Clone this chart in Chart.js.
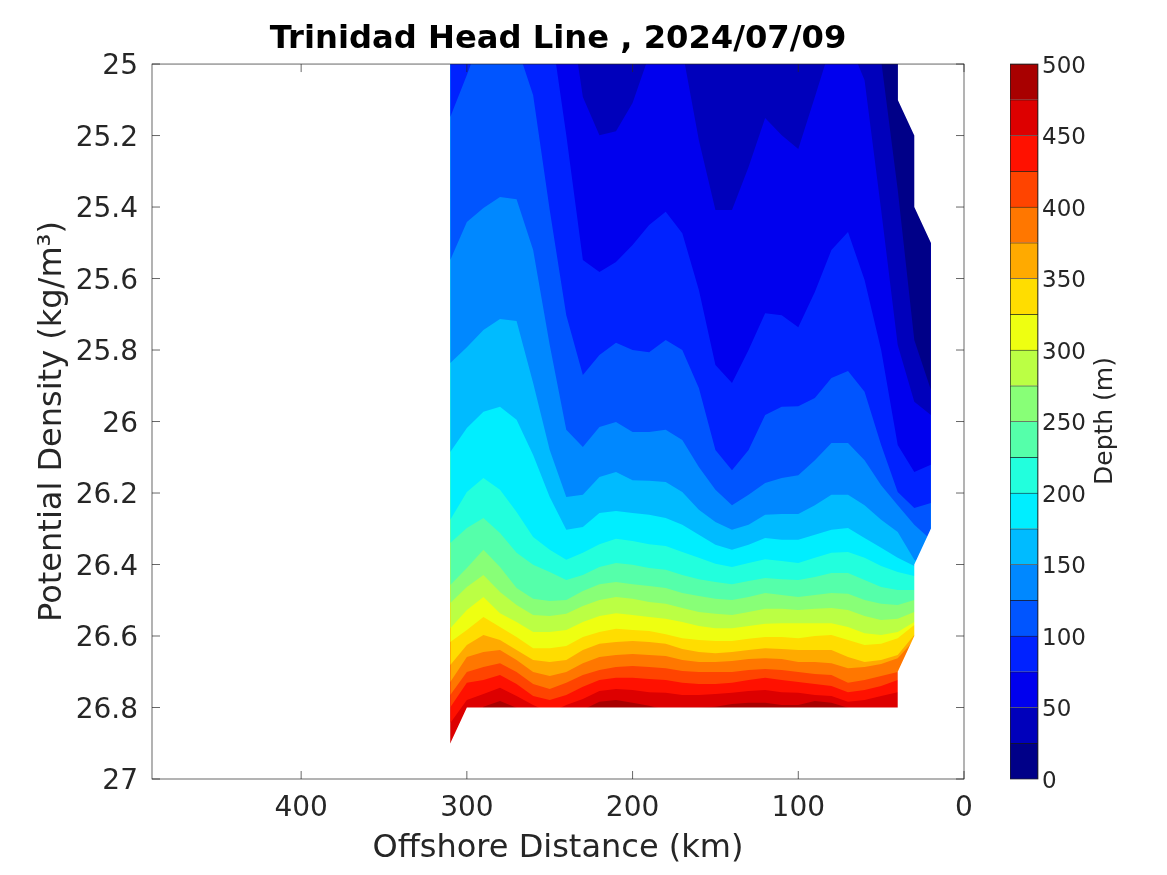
<!DOCTYPE html>
<html><head><meta charset="utf-8">
<script src="https://cdn.jsdelivr.net/npm/chart.js@4"></script>
<style>html,body{margin:0;padding:0;background:#fff}canvas{position:absolute;left:0;top:0}#cb{left:1010px}</style>
</head><body>
<canvas id="main" width="1167" height="875"></canvas>
<canvas id="cb" width="157" height="875"></canvas>
<script>
const titleText = "Trinidad Head Line , 2024/07/09";
const distances = [310,300,290,280,270,260,250,240,230,220,210,200,190,180,170,160,150,140,130,120,110,100,90,80,70,60,50,40,30,20];
const xTickValues = [400,300,200,100,0];
const edgeBottomX = [320,310,300,290,280,270,260,250,240,230,220,210,200,190,180,170,160,150,140,130,120,110,100,90,80,70,60,50,40,40,30,30,20,0];
const edgeBottomY = [26.9,26.9,26.8,26.8,26.8,26.8,26.8,26.8,26.8,26.8,26.8,26.8,26.8,26.8,26.8,26.8,26.8,26.8,26.8,26.8,26.8,26.8,26.8,26.8,26.8,26.8,26.8,26.8,26.8,26.7,26.6,26.4,26.3,26.3];
const edgeTopX = [40,40,30,30,20,0];
const edgeTopY = [25,25.1,25.2,25.4,25.5,25.5];
const d25 = [24.9,24.9,24.9,24.9,24.9,24.9,24.9,24.9,24.9,24.9,24.9,24.9,24.9,24.9,24.9,24.9,24.9,24.9,24.9,24.9,24.9,24.9,24.9,24.9,24.9,24.9,24.99,25.352,25.772,25.911];
const d50 = [24.7,24.7,24.7,24.7,24.7,24.7,24.7,24.78,25.092,25.199,25.188,25.109,24.975,24.933,24.961,25.213,25.408,25.408,25.288,25.151,25.199,25.238,25.092,24.944,24.933,25.045,25.408,25.786,25.945,25.982];
const d75 = [24.7,24.7,24.7,24.7,24.7,24.737,24.877,25.199,25.548,25.582,25.554,25.506,25.45,25.413,25.473,25.632,25.842,25.892,25.8,25.697,25.703,25.736,25.638,25.52,25.47,25.604,25.8,26.066,26.141,26.121];
const d100 = [25.148,25.031,24.905,24.877,24.947,25.087,25.408,25.703,25.87,25.814,25.78,25.8,25.806,25.772,25.8,25.906,26.08,26.136,26.08,25.982,25.959,25.957,25.934,25.878,25.859,25.917,26.066,26.197,26.242,26.228];
const d125 = [25.548,25.442,25.403,25.372,25.378,25.52,25.786,26.023,26.071,26.015,26.001,26.029,26.029,26.023,26.052,26.127,26.191,26.234,26.205,26.172,26.158,26.15,26.108,26.06,26.06,26.108,26.178,26.234,26.289,26.331];
const d150 = [25.836,25.792,25.744,25.713,25.719,25.892,26.08,26.211,26.205,26.155,26.141,26.164,26.166,26.169,26.197,26.247,26.281,26.303,26.289,26.261,26.259,26.259,26.234,26.205,26.205,26.234,26.275,26.309,26.387,26.415];
const d175 = [26.085,26.018,25.973,25.959,25.995,26.094,26.211,26.303,26.295,26.256,26.25,26.256,26.261,26.27,26.289,26.317,26.345,26.359,26.345,26.326,26.331,26.331,26.317,26.303,26.298,26.326,26.353,26.381,26.404,26.457];
const d200 = [26.275,26.197,26.158,26.191,26.253,26.323,26.359,26.387,26.367,26.343,26.328,26.334,26.343,26.348,26.365,26.381,26.398,26.407,26.396,26.385,26.39,26.396,26.381,26.367,26.365,26.381,26.404,26.421,26.432,26.457];
const d225 = [26.34,26.298,26.27,26.312,26.367,26.401,26.421,26.443,26.429,26.407,26.396,26.401,26.41,26.415,26.429,26.441,26.449,26.455,26.446,26.438,26.441,26.443,26.435,26.424,26.424,26.443,26.463,26.471,26.471,26.485];
const d250 = [26.457,26.41,26.359,26.407,26.466,26.496,26.502,26.499,26.474,26.455,26.449,26.455,26.46,26.466,26.48,26.488,26.496,26.499,26.491,26.48,26.485,26.491,26.485,26.48,26.482,26.499,26.51,26.513,26.499,26.499];
const d275 = [26.508,26.463,26.429,26.477,26.513,26.541,26.544,26.538,26.516,26.499,26.491,26.496,26.505,26.51,26.522,26.533,26.538,26.541,26.533,26.524,26.524,26.527,26.524,26.522,26.527,26.544,26.555,26.552,26.533,26.516];
const d300 = [26.578,26.527,26.491,26.536,26.561,26.589,26.589,26.583,26.561,26.544,26.536,26.541,26.547,26.552,26.561,26.572,26.578,26.578,26.572,26.566,26.564,26.564,26.564,26.564,26.575,26.592,26.597,26.589,26.561,26.533];
const d325 = [26.617,26.583,26.547,26.575,26.603,26.634,26.634,26.628,26.603,26.589,26.58,26.583,26.586,26.595,26.606,26.611,26.614,26.614,26.608,26.603,26.603,26.606,26.6,26.597,26.611,26.625,26.622,26.606,26.569,26.555];
const d350 = [26.681,26.625,26.597,26.611,26.639,26.667,26.673,26.667,26.639,26.622,26.617,26.614,26.617,26.622,26.636,26.645,26.648,26.645,26.639,26.634,26.636,26.639,26.639,26.639,26.659,26.673,26.667,26.653,26.597,26.583];
const d375 = [26.729,26.659,26.645,26.639,26.667,26.701,26.712,26.701,26.676,26.659,26.653,26.65,26.653,26.656,26.667,26.673,26.673,26.67,26.664,26.662,26.664,26.673,26.673,26.676,26.69,26.687,26.678,26.662,26.611,26.611];
const d400 = [26.765,26.701,26.687,26.676,26.701,26.734,26.748,26.731,26.709,26.695,26.687,26.684,26.687,26.69,26.698,26.701,26.701,26.701,26.695,26.692,26.695,26.701,26.706,26.709,26.731,26.723,26.712,26.701,26.639,26.639];
const d425 = [26.799,26.731,26.723,26.709,26.734,26.768,26.779,26.765,26.742,26.723,26.717,26.717,26.72,26.723,26.731,26.734,26.734,26.731,26.723,26.717,26.723,26.729,26.734,26.74,26.757,26.751,26.74,26.723,26.667,26.667];
const d450 = [26.843,26.779,26.762,26.745,26.768,26.793,26.815,26.793,26.776,26.754,26.748,26.751,26.757,26.759,26.765,26.765,26.762,26.759,26.754,26.751,26.757,26.759,26.765,26.768,26.784,26.779,26.768,26.757,26.695,26.695];
const d475 = [26.919,26.861,26.798,26.782,26.801,26.829,26.84,26.823,26.806,26.784,26.779,26.787,26.795,26.806,26.801,26.801,26.798,26.79,26.787,26.787,26.793,26.793,26.782,26.787,26.801,26.812,26.806,26.801,26.723,26.723];
const d500 = [26.95,26.9,26.9,26.9,26.9,26.9,26.9,26.9,26.9,26.9,26.9,26.9,26.9,26.9,26.9,26.9,26.9,26.9,26.9,26.9,26.9,26.9,26.9,26.9,26.9,26.9,26.9,26.9,26.9,26.9];
const depthCurves = [d25,d50,d75,d100,d125,d150,d175,d200,d225,d250,d275,d300,d325,d350,d375,d400,d425,d450,d475,d500];
const bandColors = ["#000088","#0000bb","#0000ee","#0022ff","#0055ff","#0088ff","#00bbff","#00eeff","#22ffdd","#55ffaa","#88ff77","#bbff44","#eeff11","#ffdd00","#ffaa00","#ff7700","#ff4400","#ff1100","#dd0000","#a80000"];
const bandWidth = 25;
const ink = "#262626";
const FONT = "'DejaVu Sans'";
const pairs = (xs, ys) => xs.map((x, i) => ({x, y: ys[i]}));
const area = (label, xs, ys, color, to) => ({label, data: pairs(xs, ys), showLine: true, borderWidth: 0, pointRadius: 0, tension: 0,
  borderColor: color, backgroundColor: color, fill: {value: to}});

const datasets = [
  area("edge top", edgeTopX, edgeTopY, "#ffffff", 25),
  area("edge bottom", edgeBottomX, edgeBottomY, "#ffffff", 27),
  ...depthCurves.map((c, i) => area((i + 1) * bandWidth + " m", distances, c, bandColors[i], 25))
];

const nudgeLabels = {
  id: "nudgeLabels",
  beforeDraw(chart) {
    chart.scales.y.getLabelItems().forEach(i => { i.options.translation[1] += 3; });
  }
};

const frame = {
  id: "frame",
  afterDatasetsDraw(chart) {
    const {ctx, chartArea: a, scales: {x, y}} = chart;
    ctx.save();
    ctx.strokeStyle = ink; ctx.lineWidth = 0.7;
    ctx.strokeRect(a.left, a.top, a.right - a.left, a.bottom - a.top);
    ctx.beginPath();
    const len = 8;
    x.ticks.forEach(t => { const p = x.getPixelForValue(t.value);
      ctx.moveTo(p, a.bottom); ctx.lineTo(p, a.bottom - len);
      ctx.moveTo(p, a.top); ctx.lineTo(p, a.top + len); });
    y.ticks.forEach(t => { const p = y.getPixelForValue(t.value);
      ctx.moveTo(a.left, p); ctx.lineTo(a.left + len, p);
      ctx.moveTo(a.right, p); ctx.lineTo(a.right - len, p); });
    ctx.stroke();
    ctx.restore();
  }
};

new Chart(document.getElementById("main"), {
  type: "scatter",
  data: {datasets},
  plugins: [frame, nudgeLabels],
  options: {
    responsive: false, animation: false, devicePixelRatio: 1,
    layout: {padding: {left: 0, right: 203, top: 0, bottom: 0}},
    plugins: {
      legend: {display: false}, tooltip: {enabled: false},
      title: {display: true, text: titleText, color: "#000", fullSize: false,
        font: {family: FONT, size: 32.2, weight: "bold", lineHeight: 1.2},
        padding: {top: 20, bottom: 5.4}}
    },
    scales: {
      x: {type: "linear", min: 0, max: 490, reverse: true,
        afterFit(s) { s.height = 96; },
        afterBuildTicks(s) { s.ticks = xTickValues.map(value => ({value})); },
        grid: {display: false, drawTicks: false}, border: {display: false},
        ticks: {maxRotation: 0, color: ink, padding: 13, font: {family: FONT, size: 28}},
        title: {display: true, text: "Offshore Distance (km)", color: ink, padding: {top: 8, bottom: 7}, font: {family: FONT, size: 32}}},
      y: {type: "linear", min: 25, max: 27, reverse: true,
        afterFit(s) { s.width = 152; },
        grid: {display: false, drawTicks: false}, border: {display: false},
        ticks: {stepSize: 0.2, includeBounds: false, color: ink, padding: 14, font: {family: FONT, size: 28},
          callback: v => String(+v.toFixed(1))},
        title: {display: true, text: "Potential Density (kg/m³)", color: ink, padding: {top: 33, bottom: 0}, font: {family: FONT, size: 32}}}
    }
  }
});

const cbTitle = {
  id: "cbTitle",
  afterDraw(chart) {
    const {ctx, chartArea: a} = chart;
    ctx.save();
    ctx.strokeStyle = ink; ctx.lineWidth = 0.7;
    ctx.strokeRect(a.left, a.top, a.right - a.left, a.bottom - a.top);
    ctx.translate(95, 421); ctx.rotate(-Math.PI / 2);
    ctx.fillStyle = ink; ctx.font = "25px " + FONT; ctx.textAlign = "center"; ctx.textBaseline = "middle";
    ctx.fillText("Depth (m)", 0, 0);
    ctx.restore();
  }
};

new Chart(document.getElementById("cb"), {
  type: "bar",
  data: {labels: ["Depth"], datasets: bandColors.map((c, i) => ({label: i * bandWidth + " m", data: [bandWidth],
    backgroundColor: c, borderColor: "#1a1a1a", borderWidth: 0.8, barPercentage: 1, categoryPercentage: 1, stack: "s"}))},
  plugins: [cbTitle, nudgeLabels],
  options: {
    responsive: false, animation: false, devicePixelRatio: 1,
    layout: {padding: {left: 0, right: 0, top: 64, bottom: 96}},
    plugins: {legend: {display: false}, tooltip: {enabled: false}},
    scales: {
      x: {display: false, stacked: true},
      y: {position: "right", stacked: true, min: 0, max: 500,
        afterFit(s) { s.width = 129; },
        grid: {display: false, drawTicks: false}, border: {display: false},
        ticks: {stepSize: 50, color: ink, padding: 4, font: {family: FONT, size: 23}}}
    }
  }
});
</script>
</body></html>
